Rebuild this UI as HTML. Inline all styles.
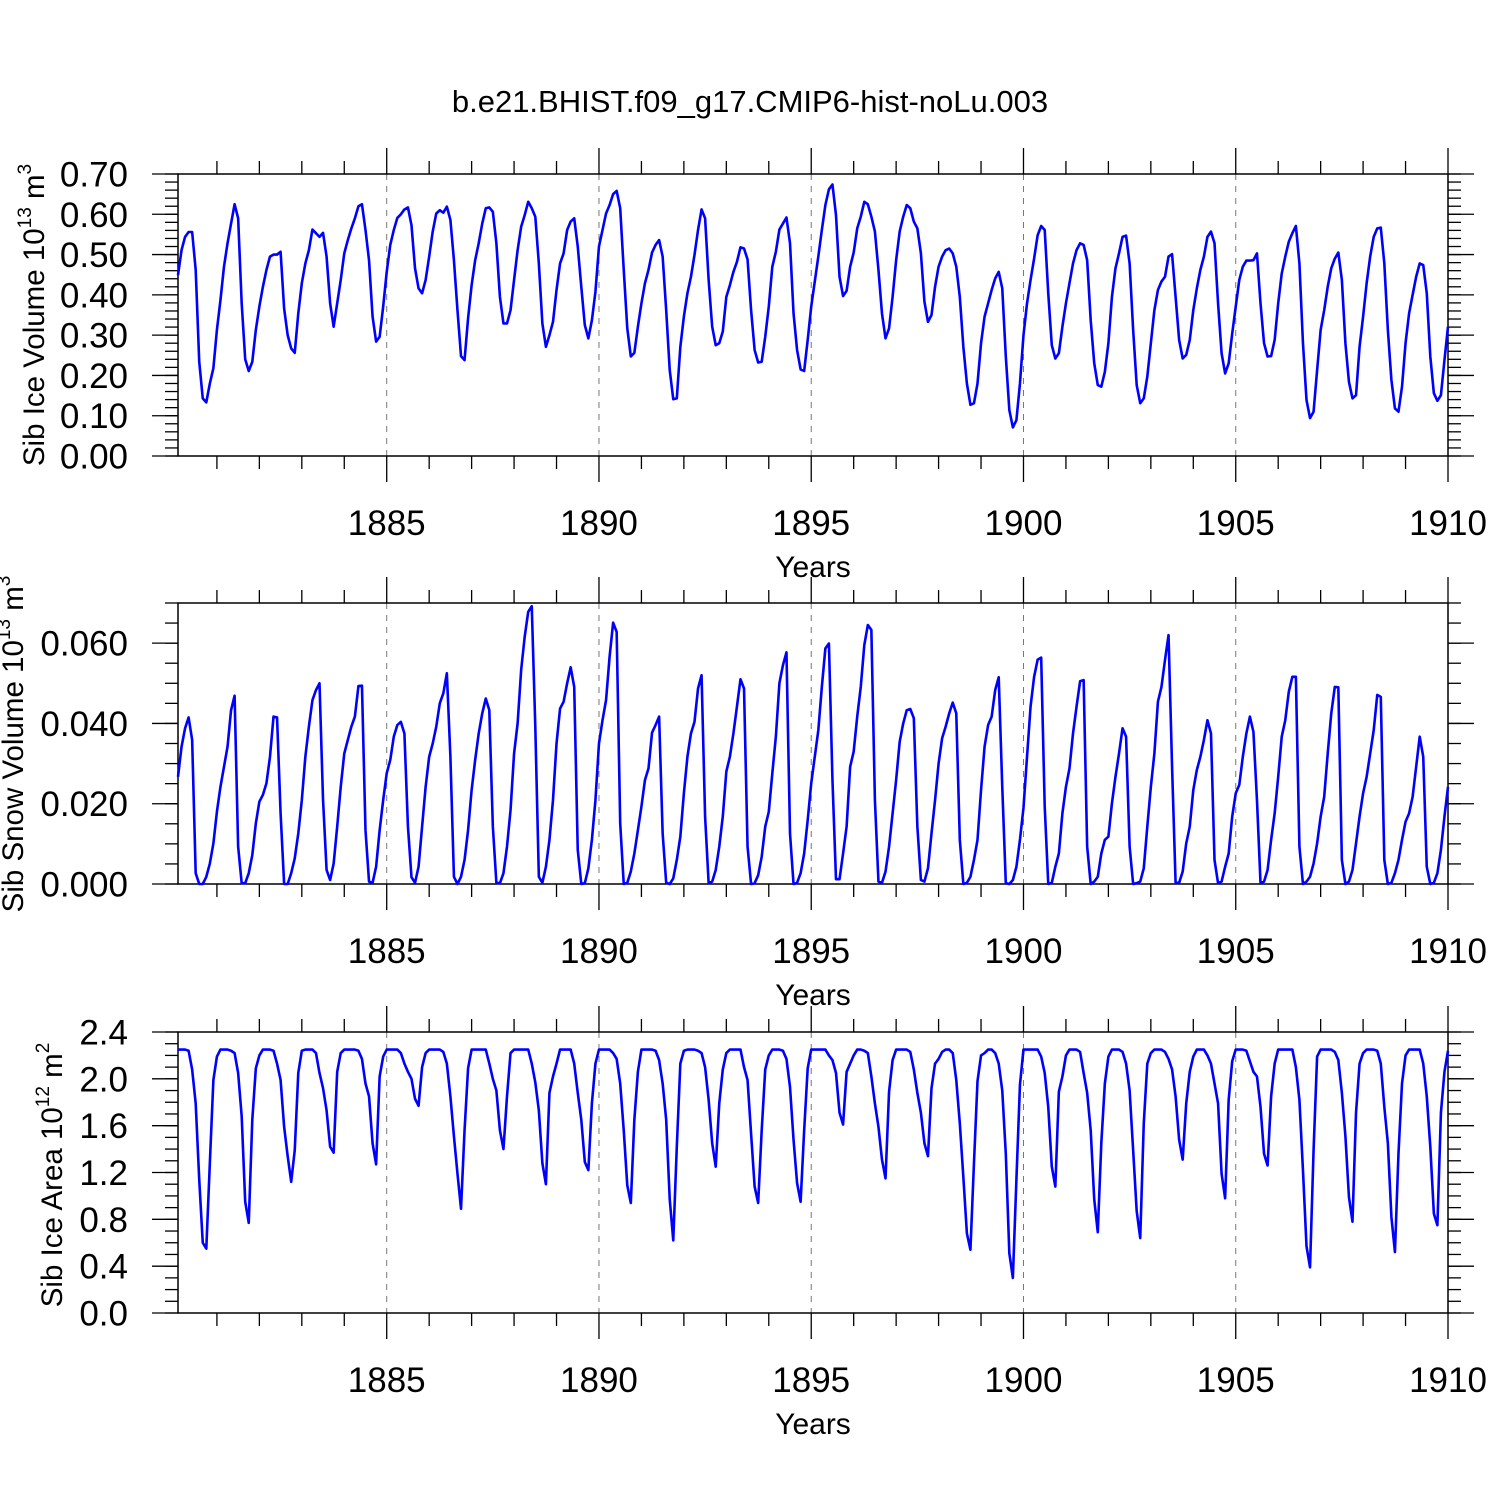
<!DOCTYPE html>
<html><head><meta charset="utf-8"><style>
html,body{margin:0;padding:0;background:#fff;}
svg text{font-family:"Liberation Sans",sans-serif;fill:#000;}
</style></head><body>
<svg id="chart" width="1500" height="1500" viewBox="0 0 1500 1500" xmlns="http://www.w3.org/2000/svg">
<rect x="0" y="0" width="1500" height="1500" fill="#fff"/>
<text x="750" y="112" font-size="31" text-anchor="middle">b.e21.BHIST.f09_g17.CMIP6-hist-noLu.003</text>
<text transform="translate(44,315) rotate(-90)" font-size="29.5" text-anchor="middle">Sib Ice Volume 10<tspan font-size="19" dy="-13">13</tspan><tspan dy="13"> m</tspan><tspan font-size="19" dy="-13">3</tspan></text>
<text transform="translate(23,744) rotate(-90)" font-size="29.5" text-anchor="middle">Sib Snow Volume 10<tspan font-size="19" dy="-13">13</tspan><tspan dy="13"> m</tspan><tspan font-size="19" dy="-13">3</tspan></text>
<text transform="translate(62,1175) rotate(-90)" font-size="29.5" text-anchor="middle">Sib Ice Area 10<tspan font-size="19" dy="-13">12</tspan><tspan dy="13"> m</tspan><tspan font-size="19" dy="-13">2</tspan></text>
</svg>
<script>
const xTickYears = [1885, 1890, 1895, 1900, 1905, 1910];
const xTickLabels = ["1885", "1890", "1895", "1900", "1905", "1910"];
const iceVolTicks = [0, 0.1, 0.2, 0.3, 0.4, 0.5, 0.6, 0.7];
const iceVolLabels = ["0.00","0.10","0.20","0.30","0.40","0.50","0.60","0.70"];
const snowVolTicks = [0, 0.02, 0.04, 0.06];
const snowVolLabels = ["0.000","0.020","0.040","0.060"];
const iceAreaTicks = [0, 0.4, 0.8, 1.2, 1.6, 2.0, 2.4];
const iceAreaLabels = ["0.0","0.4","0.8","1.2","1.6","2.0","2.4"];

const iceVol = [
.449,.511,.544,.556,.556,.462,.234,.143,.133,.18,.218,.313,
.387,.470,.528,.577,.625,.590,.379,.240,.211,.234,.313,.371,
.420,.462,.495,.500,.500,.507,.366,.300,.267,.256,.354,.429,
.478,.511,.562,.553,.544,.554,.495,.379,.321,.379,.437,.503,
.536,.565,.590,.620,.625,.561,.486,.346,.284,.296,.371,.457,
.524,.561,.591,.600,.612,.617,.573,.466,.416,.404,.437,.495,
.557,.602,.610,.604,.619,.586,.486,.362,.248,.238,.342,.424,
.486,.528,.577,.615,.617,.606,.528,.395,.329,.329,.362,.437,
.511,.569,.598,.631,.615,.594,.478,.329,.271,.300,.333,.412,
.478,.503,.561,.582,.590,.520,.420,.325,.292,.337,.408,.52,
.561,.602,.623,.650,.658,.615,.462,.317,.247,.256,.321,.379,
.429,.462,.505,.524,.536,.495,.362,.213,.141,.143,.271,.346,
.404,.445,.499,.561,.612,.590,.437,.321,.275,.280,.309,.395,
.424,.457,.482,.518,.515,.488,.362,.263,.232,.234,.296,.371,
.470,.507,.562,.577,.592,.528,.354,.263,.215,.211,.288,.371,
.433,.495,.561,.623,.662,.674,.598,.445,.397,.410,.470,.505,
.565,.594,.631,.625,.594,.557,.462,.354,.292,.317,.395,.486,
.557,.594,.623,.615,.582,.565,.503,.383,.333,.350,.420,.470,
.495,.511,.515,.503,.470,.395,.271,.180,.127,.131,.180,.280,
.346,.379,.412,.441,.457,.416,.247,.114,.071,.089,.180,.30,
.379,.437,.490,.548,.571,.561,.404,.275,.242,.255,.321,.379,
.429,.478,.511,.528,.524,.486,.337,.230,.176,.172,.209,.280,
.395,.466,.503,.544,.547,.478,.313,.176,.131,.143,.197,.280,
.362,.412,.433,.445,.495,.501,.395,.288,.242,.251,.288,.362,
.416,.462,.495,.544,.557,.528,.379,.255,.205,.230,.304,.371,
.437,.470,.485,.485,.486,.503,.379,.280,.247,.248,.288,.379,
.453,.495,.532,.553,.571,.478,.280,.139,.094,.110,.213,.313,
.362,.420,.466,.490,.505,.437,.280,.184,.143,.151,.271,.346,
.429,.495,.544,.565,.567,.478,.313,.189,.118,.110,.172,.280,
.354,.400,.445,.478,.474,.404,.247,.156,.137,.151,.238,.321];

const snowVolMilli = [
26.7,34.2,38.8,41.5,35.9,2.7,0,0,1.8,5.1,10.1,18.0,
24.2,29.2,34.2,43.3,46.9,9.3,0.2,0.2,2.7,7.2,15.1,20.5,
22.2,25.1,31.7,41.7,41.5,17.6,0,0,2.7,6.4,12.6,20.9,
31.7,39.2,45.8,48.3,50.0,20.9,3.5,1.0,5.1,14.3,24.2,32.5,
35.9,39.2,41.7,49.3,49.4,13.4,0.6,0.3,4.3,13.4,20.9,27.6,
30.9,36.7,39.6,40.4,37.5,14.3,1.7,0.3,4.3,14.3,24.2,31.7,
35.0,39.2,45.0,47.5,52.5,31.7,1.8,0,1.8,6.0,13.4,23.4,
30.9,37.5,42.5,46.2,43.3,14.3,0.3,0.2,2.7,9.3,18.4,32.5,
40.0,53.3,61.6,67.8,69.2,39.2,1.8,0.3,4.3,11.0,20.9,35.0,
43.7,45.4,50.0,54.0,49.1,8.5,0,0.2,3.9,11.0,20.9,35,
40.8,45.8,56.6,65.1,62.8,15.1,0,0.3,3.1,7.6,13.4,19.3,
25.9,28.8,37.7,39.6,41.7,12.6,0.3,0,1.4,6.0,11.8,22.6,
31.7,37.5,40.4,48.7,52.0,16.8,0.2,0.6,3.5,9.3,16.8,28.0,
31.7,37.5,44.2,51.0,48.7,9.3,0,0.2,2.2,6.8,14.3,18.0,
27.6,36.7,50.0,54.5,57.7,12.6,0,0.3,2.7,7.6,15.9,25.1,
31.7,38.3,49.1,58.7,59.9,25.9,1.2,1.2,7.6,14.3,29.2,33.0,
41.7,49.1,59.5,64.5,63.3,20.9,0.6,0.3,3.1,9.3,17.6,25.9,
35.4,40.0,43.3,43.6,41.3,14.3,1.0,0.6,3.9,12.6,20.9,30.0,
36.3,39.2,42.5,45.2,42.5,11.0,0,0.3,1.8,6.0,11.0,23.4,
34.2,39.6,41.7,48.3,51.5,24.2,0.2,0,1.0,4.3,11.0,19,
31.7,44.2,51.6,55.9,56.4,19.3,0,0.3,4.3,7.6,17.6,24.2,
28.8,37.5,44.2,50.5,50.8,9.3,0,0.6,1.8,7.6,11.0,11.8,
20.1,26.7,32.5,38.8,36.7,9.3,0,0.2,0.6,3.9,14.3,24.2,
32.5,45.4,49.1,55.8,62.0,29.2,0.3,0.3,3.1,10.1,14.3,23.4,
28.4,31.7,35.9,40.8,37.5,6.0,0.2,0.6,4.3,7.6,16.8,22.6,
24.7,31.7,37.5,41.7,37.9,20.9,0.3,0.6,3.5,11.0,17.6,26.7,
36.7,40.8,47.9,51.6,51.6,9.3,0,0.6,1.8,5.1,10.1,16.8,
21.7,32.5,42.5,49.1,49.0,6.0,0,0.6,3.5,10.1,16.8,22.6,
26.7,32.5,38.3,47.1,46.6,6.0,0,0.3,2.7,6.0,11.0,15.5,
17.6,21.7,29.2,36.7,31.7,4.3,0,0.3,2.7,8.5,16.8,24.2];

const iceArea = [
2.25,2.25,2.25,2.24,2.08,1.79,1.14,0.60,0.55,1.28,1.99,2.19,
2.25,2.25,2.25,2.24,2.22,2.05,1.68,0.95,0.77,1.65,2.09,2.20,
2.25,2.25,2.25,2.24,2.13,1.99,1.59,1.34,1.12,1.39,2.05,2.24,
2.25,2.25,2.25,2.22,2.05,1.92,1.73,1.42,1.37,2.06,2.22,2.25,
2.25,2.25,2.25,2.24,2.17,1.96,1.85,1.45,1.27,2.02,2.19,2.25,
2.25,2.25,2.25,2.22,2.13,2.06,2.00,1.83,1.77,2.10,2.22,2.25,
2.25,2.25,2.25,2.23,2.13,1.85,1.51,1.19,0.89,1.56,2.09,2.25,
2.25,2.25,2.25,2.25,2.13,2.00,1.90,1.56,1.40,1.85,2.22,2.25,
2.25,2.25,2.25,2.25,2.13,1.97,1.73,1.28,1.10,1.88,2.02,2.13,
2.25,2.25,2.25,2.25,2.13,1.88,1.65,1.29,1.22,1.79,2.13,2.25,
2.25,2.25,2.25,2.22,2.17,1.96,1.56,1.09,0.94,1.65,2.06,2.25,
2.25,2.25,2.25,2.24,2.16,1.96,1.65,0.97,0.62,1.42,2.13,2.24,
2.25,2.25,2.25,2.24,2.22,2.10,1.82,1.45,1.25,1.79,2.08,2.22,
2.25,2.25,2.25,2.25,2.10,1.99,1.53,1.08,0.94,1.56,2.08,2.20,
2.25,2.25,2.25,2.24,2.17,1.93,1.48,1.11,0.95,1.56,2.09,2.25,
2.25,2.25,2.25,2.25,2.20,2.16,2.05,1.71,1.61,2.06,2.13,2.20,
2.25,2.25,2.24,2.22,2.02,1.79,1.59,1.31,1.15,1.89,2.16,2.25,
2.25,2.25,2.25,2.23,2.08,1.88,1.71,1.45,1.34,1.92,2.13,2.17,
2.23,2.25,2.25,2.22,1.99,1.62,1.16,0.68,0.54,1.28,1.98,2.20,
2.22,2.25,2.25,2.22,2.13,1.90,1.36,0.51,0.30,1.14,1.95,2.25,
2.25,2.25,2.25,2.25,2.19,2.05,1.76,1.25,1.08,1.89,2.02,2.20,
2.25,2.25,2.25,2.23,2.05,1.88,1.56,0.97,0.69,1.45,1.96,2.19,
2.25,2.25,2.25,2.23,2.13,1.90,1.39,0.87,0.64,1.62,2.13,2.22,
2.25,2.25,2.25,2.23,2.17,2.08,1.85,1.48,1.31,1.79,2.06,2.19,
2.25,2.25,2.25,2.20,2.13,1.96,1.79,1.19,0.98,1.82,2.15,2.25,
2.25,2.25,2.24,2.15,2.06,2.02,1.76,1.36,1.26,1.85,2.13,2.25,
2.25,2.25,2.25,2.25,2.10,1.82,1.22,0.57,0.39,1.39,2.19,2.25,
2.25,2.25,2.25,2.23,2.16,1.88,1.51,0.99,0.78,1.71,2.13,2.22,
2.25,2.25,2.25,2.24,2.13,1.76,1.45,0.82,0.52,1.36,1.96,2.20,
2.25,2.25,2.25,2.25,2.13,1.85,1.42,0.85,0.75,1.71,2.06,2.24];

const NS = "http://www.w3.org/2000/svg";
const svg = document.getElementById("chart");
const X0 = 178, X1 = 1448, T0 = 1880 + 1/12, T1 = 1910;
function xScale(t){ return X0 + (t - T0) * (X1 - X0) / (T1 - T0); }
function mk(tag, attrs, parent){
  const e = document.createElementNS(NS, tag);
  for (const k in attrs) e.setAttribute(k, attrs[k]);
  (parent || svg).appendChild(e);
  return e;
}

function panel(key, top, bottom, ymin, ymax, ticks, labels, minorStep, values, scaleK){
  const yScale = v => bottom - (v - ymin) / (ymax - ymin) * (bottom - top);
  const g = mk("g", {});
  
  
  xTickYears.forEach((yr) => {
    if (yr >= T1) return;
    const x = xScale(yr);
    const l = mk("line", {x1:x, x2:x, y1:top, y2:bottom, stroke:"#777", "stroke-width":1, "stroke-dasharray":"6 6"}, g);
    
    
  });
  for (let yr = 1881; yr <= 1910; yr++) {
    const x = xScale(yr);
    const major = xTickYears.indexOf(yr) >= 0;
    const len = major ? 26 : 13;
    mk("line", {x1:x, x2:x, y1:top, y2:top - len, stroke:"#000", "stroke-width":1.3}, g);
    mk("line", {x1:x, x2:x, y1:bottom, y2:bottom + len, stroke:"#000", "stroke-width":1.3}, g);
  }
  const nMinor = Math.round((ymax - ymin) / minorStep);
  for (let i = 0; i <= nMinor; i++) {
    const y = yScale(ymin + i * minorStep);
    mk("line", {x1:X0 - 13, x2:X0, y1:y, y2:y, stroke:"#000", "stroke-width":1.3}, g);
    mk("line", {x1:X1, x2:X1 + 13, y1:y, y2:y, stroke:"#000", "stroke-width":1.3}, g);
  }
  ticks.forEach((v, i) => {
    const y = yScale(v);
    mk("line", {x1:X0 - 26, x2:X0, y1:y, y2:y, stroke:"#000", "stroke-width":1.3}, g);
    mk("line", {x1:X1, x2:X1 + 26, y1:y, y2:y, stroke:"#000", "stroke-width":1.3}, g);
    const t = mk("text", {x:128, y:y + 12.5, "font-size":35, "text-anchor":"end"}, g);
    t.textContent = labels[i];
    
    
  });
  xTickYears.forEach((yr, i) => {
    const t = mk("text", {x:xScale(yr), y:bottom + 79, "font-size":35, "text-anchor":"middle"}, g);
    t.textContent = xTickLabels[i];
    
    
  });
  const xt = mk("text", {x:(X0 + X1) / 2, y:bottom + 121, "font-size":30, "text-anchor":"middle"}, g);
  xt.textContent = "Years";
  
  
  const fr = mk("rect", {x:X0, y:top, width:X1 - X0, height:bottom - top, fill:"none", stroke:"#000", "stroke-width":1.5}, g);
  
  
  let d = "";
  values.forEach((v, i) => {
    const t = 1880 + (i + 1) / 12;
    d += (i ? "L" : "M") + xScale(t).toFixed(2) + "," + yScale(v * scaleK).toFixed(2);
  });
  const p = mk("path", {d:d, fill:"none", stroke:"#0000ff", "stroke-width":2.6, "stroke-linejoin":"round"}, g);
  
  
}

panel("ice-volume", 174, 456, 0, 0.7, iceVolTicks, iceVolLabels, 0.02, iceVol, 1);
panel("snow-volume", 603, 884, 0, 0.07, snowVolTicks, snowVolLabels, 0.005, snowVolMilli, 0.001);
panel("ice-area", 1032, 1313, 0, 2.4, iceAreaTicks, iceAreaLabels, 0.1, iceArea, 1);
</script>
</body></html>
